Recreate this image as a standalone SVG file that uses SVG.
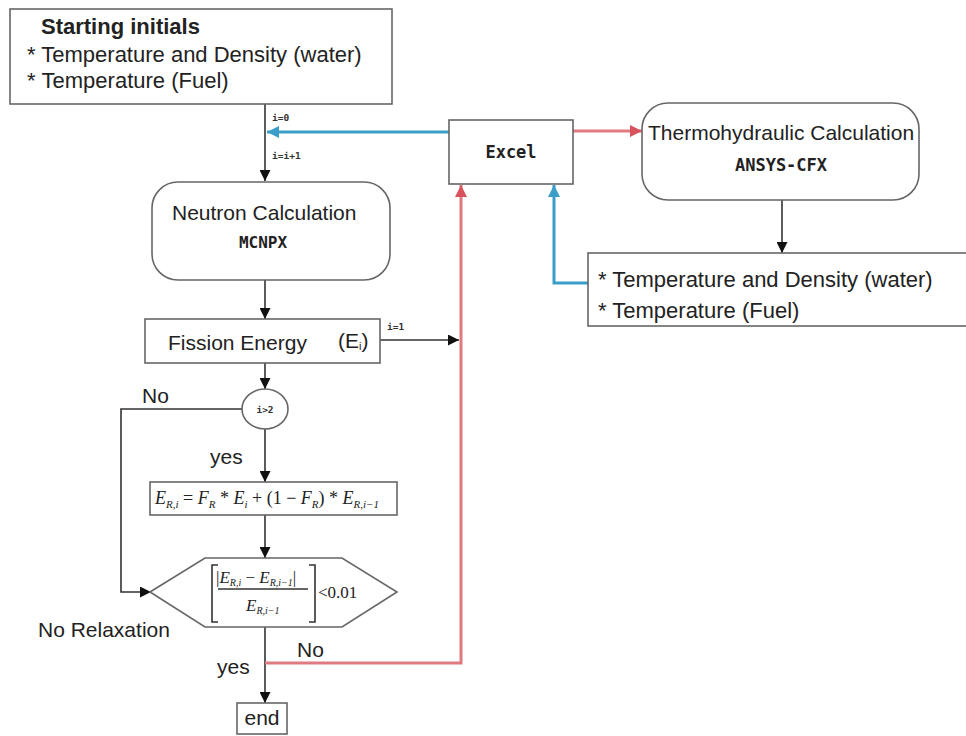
<svg xmlns="http://www.w3.org/2000/svg" width="966" height="736" viewBox="0 0 966 736">
<style>
.box{fill:#fff;stroke:#666;stroke-width:1.6}
.t{font-family:"Liberation Sans",Arial,sans-serif;font-size:21px;fill:#222}
.tl{font-family:"Liberation Sans",Arial,sans-serif;font-size:22px;fill:#222}
.tb{font-family:"Liberation Sans",Arial,sans-serif;font-size:22px;font-weight:bold;fill:#222}
.mono{font-family:"DejaVu Sans Mono","Liberation Mono",monospace;font-weight:bold;fill:#222}
.sm{font-family:"DejaVu Sans Mono","Liberation Mono",monospace;font-weight:bold;font-size:9.5px;fill:#333}
.m{font-family:"Liberation Serif","Times New Roman",serif;fill:#222}
.ln{fill:none;stroke:#333;stroke-width:1.6}
.blue{fill:none;stroke:#3a9ec9;stroke-width:3}
.red{fill:none;stroke:#e07a80;stroke-width:3}
</style>
<defs>
<marker id="ab" viewBox="0 0 10 10" refX="10" refY="5" markerWidth="11" markerHeight="11" markerUnits="userSpaceOnUse" orient="auto"><path d="M0,0 L10,5 L0,10 z" fill="#111"/></marker>
<marker id="abl" viewBox="0 0 10 10" refX="10" refY="5" markerWidth="12" markerHeight="12" markerUnits="userSpaceOnUse" orient="auto"><path d="M0,0 L10,5 L0,10 z" fill="#3a9ec9"/></marker>
<marker id="ar" viewBox="0 0 10 10" refX="10" refY="5" markerWidth="12" markerHeight="12" markerUnits="userSpaceOnUse" orient="auto"><path d="M0,0 L10,5 L0,10 z" fill="#d9535e"/></marker>
</defs>
<rect width="966" height="736" fill="#fff"/>

<g id="connectors">
<line class="ln" x1="265" y1="104" x2="265" y2="181" marker-end="url(#ab)"/>
<line class="blue" x1="449" y1="132" x2="267" y2="132" marker-end="url(#abl)"/>
<line class="red" x1="573" y1="131" x2="642" y2="131" marker-end="url(#ar)"/>
<line class="ln" x1="782" y1="200" x2="782" y2="253" marker-end="url(#ab)"/>
<path class="blue" d="M588,283 H554 V185" marker-end="url(#abl)"/>
<line class="ln" x1="265" y1="280" x2="265" y2="319" marker-end="url(#ab)"/>
<line class="ln" x1="380" y1="340" x2="459" y2="340" marker-end="url(#ab)"/>
<line class="ln" x1="265" y1="363" x2="265" y2="389" marker-end="url(#ab)"/>
<line class="ln" x1="265" y1="429" x2="265" y2="482" marker-end="url(#ab)"/>
<path class="ln" d="M242,409 H121 V592 H151" marker-end="url(#ab)"/>
<line class="ln" x1="265" y1="515" x2="265" y2="558" marker-end="url(#ab)"/>
<line class="ln" x1="265" y1="627" x2="265" y2="703" marker-end="url(#ab)"/>
<path class="red" d="M265,663 H461 V185" marker-end="url(#ar)"/>
<text class="sm" x="272" y="121">i=0</text>
<text class="sm" x="272" y="159">i=i+1</text>
<text class="sm" x="387" y="330">i=1</text>
<text class="t" x="142" y="403">No</text>
<text class="t" x="210" y="464">yes</text>
<text class="t" x="38" y="637">No Relaxation</text>
<text class="t" x="217" y="674">yes</text>
<text class="t" x="297" y="657">No</text>
</g>

<g id="start">
<rect class="box" x="10" y="9" width="382" height="95"/>
<text class="tb" x="41" y="34">Starting initials</text>
<text class="tl" x="27" y="62">* Temperature and Density (water)</text>
<text class="tl" x="27" y="88">*<tspan dx="6">Temperature (Fuel)</tspan></text>
</g>

<g id="excel">
<rect class="box" x="449" y="120" width="124" height="64"/>
<text class="mono" x="511" y="158" font-size="17" text-anchor="middle">Excel</text>
</g>

<g id="thermo">
<rect class="box" x="642" y="103" width="277" height="97" rx="26"/>
<text class="t" x="648" y="140">Thermohydraulic Calculation</text>
<text class="mono" x="781" y="171" font-size="17" text-anchor="middle">ANSYS-CFX</text>
</g>

<g id="output">
<rect class="box" x="588" y="253" width="390" height="73"/>
<text class="tl" x="598" y="287">* Temperature and Density (water)</text>
<text class="tl" x="598" y="318">* Temperature (Fuel)</text>
</g>

<g id="neutron">
<rect class="box" x="152" y="182" width="238" height="98" rx="26"/>
<text class="t" x="172" y="220">Neutron Calculation</text>
<text class="mono" x="263" y="248" font-size="16" text-anchor="middle">MCNPX</text>
</g>

<g id="fission">
<rect class="box" x="145" y="319" width="235" height="44"/>
<text class="t" x="168" y="350">Fission Energy</text>
<text class="t" x="338" y="348" font-size="18">(E<tspan font-size="11" dy="2">i</tspan><tspan dy="-2">)</tspan></text>
</g>

<g id="check">
<ellipse class="box" cx="265" cy="409" rx="23" ry="20"/>
<text class="sm" x="265" y="413" text-anchor="middle">i&gt;2</text>
</g>

<g id="relax">
<rect class="box" x="150" y="482" width="247" height="33"/>
<text class="m" x="155" y="504" font-size="18"><tspan font-style="italic">E</tspan><tspan font-size="11" font-style="italic" dy="4">R,i</tspan><tspan dy="-4"> = </tspan><tspan font-style="italic">F</tspan><tspan font-size="11" font-style="italic" dy="4">R</tspan><tspan dy="-4"> * </tspan><tspan font-style="italic">E</tspan><tspan font-size="11" font-style="italic" dy="4">i</tspan><tspan dy="-4"> + (1 − </tspan><tspan font-style="italic">F</tspan><tspan font-size="11" font-style="italic" dy="4">R</tspan><tspan dy="-4">) * </tspan><tspan font-style="italic">E</tspan><tspan font-size="11" font-style="italic" dy="4">R,i−1</tspan></text>
</g>

<g id="converge">
<polygon class="box" points="150,592 205,558 342,558 397,592 342,627 205,627"/>
<path class="ln" d="M218,565 H212 V622 H218 M309,565 H315 V622 H309" stroke-width="1.3"/>
<line class="ln" x1="218" y1="589" x2="308" y2="589" stroke-width="1.2"/>
<text class="m" x="216" y="583" font-size="17">|<tspan font-style="italic">E</tspan><tspan font-size="10" font-style="italic" dy="3">R,i</tspan><tspan dy="-3"> − </tspan><tspan font-style="italic">E</tspan><tspan font-size="10" font-style="italic" dy="3">R,i−1</tspan><tspan dy="-3">|</tspan></text>
<text class="m" x="246" y="611" font-size="17"><tspan font-style="italic">E</tspan><tspan font-size="10" font-style="italic" dy="3">R,i−1</tspan></text>
<text class="m" x="318" y="598" font-size="17">&lt;0.01</text>
</g>

<g id="end">
<rect class="box" x="237" y="703" width="50" height="31"/>
<text class="t" x="262" y="725" text-anchor="middle">end</text>
</g>
</svg>
